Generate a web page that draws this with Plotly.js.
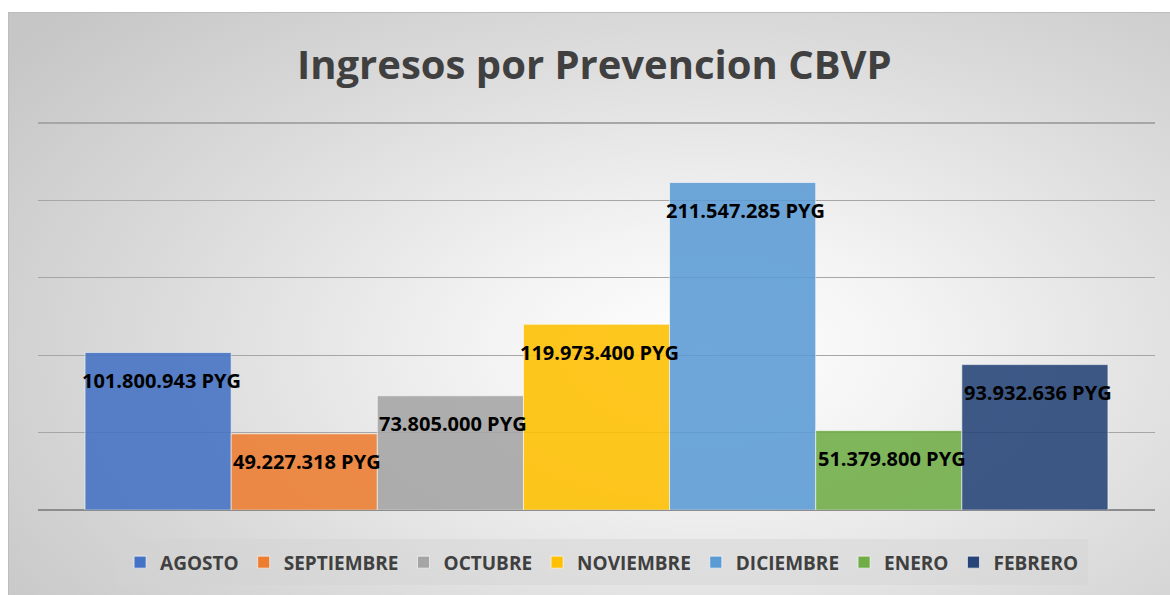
<!DOCTYPE html>
<html>
<head>
<meta charset="utf-8">
<script src="https://cdn.plot.ly/plotly-3.0.1.min.js"></script>
<style>
  html, body { margin: 0; padding: 0; background: #ffffff; }
  #bg {
    position: absolute; left: 8px; top: 12px; width: 1162px; height: 583px;
    box-sizing: border-box; border-top: 1px solid #bdbdbd; border-left: 1px solid #bdbdbd;
    background: radial-gradient(ellipse 75% 85% at 60% 58%, #ffffff 0%, #f3f3f3 25%, #dadada 65%, #c6c6c6 100%);
  }
  #chart { position: absolute; left: 0; top: 0; width: 1170px; height: 595px; }
</style>
</head>
<body>
<div id="bg"></div>
<div id="chart"></div>
<script>
const months = ["AGOSTO", "SEPTIEMBRE", "OCTUBRE", "NOVIEMBRE", "DICIEMBRE", "ENERO", "FEBRERO"];
const values = [101800943, 49227318, 73805000, 119973400, 211547285, 51379800, 93932636];
const labels = ["101.800.943 PYG", "49.227.318 PYG", "73.805.000 PYG", "119.973.400 PYG", "211.547.285 PYG", "51.379.800 PYG", "93.932.636 PYG"];
const colors = ["#4472C4", "#ED7D31", "#A5A5A5", "#FFC000", "#5B9BD5", "#70AD47", "#264478"];
const yTicks = [0, 50000000, 100000000, 150000000, 200000000, 250000000];

const traces = months.map((m, i) => ({
  type: "bar",
  name: m,
  x: [m],
  y: [values[i]],
  marker: { color: colors[i], opacity: 0.88, line: { color: "rgba(255,255,255,0.6)", width: 1 } },
  hoverinfo: "skip"
}));

const annotations = months.map((m, i) => ({
  x: m, y: values[i], xref: "x", yref: "y",
  text: labels[i], showarrow: false,
  yshift: -28, yanchor: "middle", xanchor: "center", xshift: 3,
  font: { family: "Open Sans", size: 20, color: "#000000", weight: 700 }
}));

const layout = {
  width: 1170, height: 595,
  paper_bgcolor: "rgba(0,0,0,0)",
  plot_bgcolor: "rgba(0,0,0,0)",
  margin: { l: 38, r: 15, t: 121, b: 85, autoexpand: false },
  barmode: "overlay",
  bargap: 0,
  showlegend: true,
  title: {
    text: "Ingresos por Prevencion CBVP",
    x: 0.508, xanchor: "center", y: 0.89, yanchor: "middle",
    font: { family: "Open Sans", size: 40, color: "#404040", weight: 700 }
  },
  xaxis: {
    type: "category",
    categoryorder: "array", categoryarray: months,
    range: [-0.822, 6.822],
    showticklabels: false, showgrid: false, zeroline: false, ticks: ""
  },
  yaxis: {
    range: [0, 251300000],
    tickvals: yTicks,
    showticklabels: false,
    showgrid: true, gridcolor: "#a6a6a6", gridwidth: 1.3,
    zeroline: true, zerolinecolor: "#8c8c8c", zerolinewidth: 1.6,
    ticks: ""
  },
  legend: {
    orientation: "h",
    x: 0.505, xanchor: "center",
    y: -0.065, yanchor: "top",
    bgcolor: "rgba(210,210,210,0.45)",
    bordercolor: "rgba(210,210,210,0.0)", borderwidth: 8,
    font: { family: "Open Sans", size: 19, color: "#404040", weight: 700 },
    itemclick: false, itemdoubleclick: false,
    traceorder: "normal"
  },
  annotations: annotations
};

Plotly.newPlot("chart", traces, layout, { displayModeBar: false, staticPlot: true });
</script>
</body>
</html>
